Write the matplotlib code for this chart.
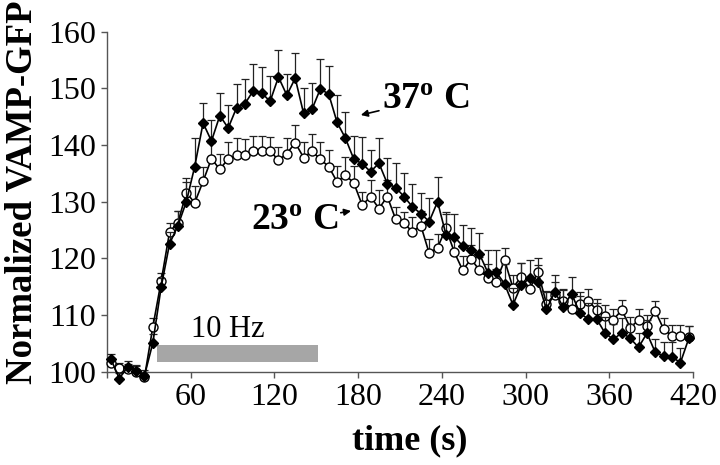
import numpy as np
import matplotlib
matplotlib.use("Agg")
import matplotlib.pyplot as plt

plt.rcParams['font.family'] = ['Liberation Serif', 'DejaVu Serif']
plt.rcParams['mathtext.fontset'] = 'custom'
plt.rcParams['mathtext.rm'] = 'Liberation Serif'
plt.rcParams['mathtext.bf'] = 'Liberation Serif:bold'

# sampling every 6 s
time_s = np.arange(3, 420, 6)

# 37 C (filled diamonds)
vamp_37 = [102.2, 98.8, 100.9, 100.2, 99.3, 105.1, 115.0, 122.6, 125.8, 130.0,
           136.2, 143.9, 140.7, 145.2, 143.0, 146.6, 147.3, 149.6, 149.2, 147.7,
           152.0, 148.8, 151.8, 145.6, 146.3, 149.9, 149.0, 144.0, 141.2, 137.5,
           136.7, 135.3, 136.8, 133.2, 132.5, 130.9, 129.1, 127.9, 126.5, 130.0,
           124.2, 123.8, 122.2, 121.5, 120.8, 117.5, 117.6, 115.5, 111.8, 115.3,
           116.5, 115.9, 111.0, 114.1, 111.4, 113.8, 110.3, 109.3, 109.3, 106.8,
           105.7, 106.9, 105.9, 104.3, 106.8, 103.4, 102.8, 102.6, 101.6, 105.9]
err_37 = [1.0, 1.0, 1.0, 1.0, 1.0, 1.5, 1.5, 2.0, 2.5, 3.5,
          5.0, 3.6, 3.7, 3.9, 4.0, 4.1, 4.4, 4.7, 4.5, 4.5,
          4.7, 3.8, 4.4, 4.5, 4.7, 5.2, 4.9, 4.9, 4.7, 4.1,
          4.7, 3.9, 4.4, 4.6, 4.3, 4.2, 4.0, 3.7, 4.1, 4.3,
          4.0, 4.0, 3.7, 3.8, 3.6, 4.0, 3.9, 3.5, 3.0, 3.8,
          3.3, 3.0, 3.0, 3.0, 3.0, 3.0, 3.0, 2.8, 2.8, 2.8,
          2.8, 2.6, 2.6, 2.6, 2.4, 2.3, 2.5, 2.7, 2.5, 2.2]

# 23 C (open circles)
vamp_23 = [101.5, 100.6, 100.4, 100.0, 99.0, 107.9, 116.0, 124.7, 126.3, 131.6,
           129.8, 133.6, 137.6, 135.7, 137.6, 138.2, 138.2, 139.0, 139.0, 139.0,
           137.3, 138.5, 140.4, 137.8, 138.9, 137.5, 136.2, 133.5, 134.7, 133.3,
           129.4, 130.9, 128.8, 130.9, 126.9, 126.2, 124.7, 125.8, 120.9, 121.9,
           125.3, 121.1, 117.9, 119.9, 117.9, 116.6, 115.9, 119.7, 114.8, 116.8,
           114.6, 117.6, 112.0, 113.6, 112.5, 111.1, 112.0, 112.5, 110.9, 109.8,
           109.2, 110.9, 107.8, 109.1, 108.1, 110.7, 107.5, 106.3, 106.3, 106.1]
err_23 = [1.0, 1.0, 1.0, 1.0, 1.0, 1.5, 1.5, 1.5, 2.0, 2.5,
          3.0, 2.5, 2.8, 2.8, 3.0, 3.0, 2.8, 2.6, 2.6, 2.4,
          2.4, 2.8, 3.1, 2.8, 3.1, 3.1, 2.9, 2.8, 3.2, 3.0,
          2.3, 2.9, 3.2, 3.0, 2.2, 2.0, 2.6, 2.5, 2.6, 2.4,
          2.5, 2.5, 2.5, 2.4, 2.4, 2.4, 2.3, 2.2, 2.3, 2.3,
          2.2, 2.4, 2.2, 2.2, 2.1, 2.1, 2.1, 2.1, 2.0, 2.0,
          1.9, 1.7, 1.9, 1.9, 1.9, 1.8, 1.9, 1.9, 2.0, 2.0]

stim_start, stim_end = 36, 151

fig = plt.figure(figsize=(7.2, 4.65), dpi=100)
ax = fig.add_axes([0.1483, 0.2006, 0.8142, 0.7312])

# stimulus bar
ax.barh(103.2, stim_end - stim_start, left=stim_start, height=3.0,
        color='#a6a6a6', zorder=1)
ax.text(87, 104.9, '10 Hz', fontsize=22, ha='center', va='bottom')

no_err = np.zeros(len(time_s))
ax.errorbar(time_s, vamp_23, yerr=[no_err, err_23], fmt='none', ecolor='#222222',
            elinewidth=0.9, capsize=3, capthick=0.9, zorder=2, clip_on=False)
ax.plot(time_s, vamp_23, '-o', color='black', lw=1.2, ms=6.5,
        mfc='white', mec='black', mew=1.0, zorder=3, clip_on=False)
ax.errorbar(time_s, vamp_37, yerr=[no_err, err_37], fmt='none', ecolor='#222222',
            elinewidth=0.9, capsize=3, capthick=0.9, zorder=4, clip_on=False)
ax.plot(time_s, vamp_37, '-D', color='black', lw=1.2, ms=5.3,
        mfc='black', mec='black', zorder=5, clip_on=False)

ax.annotate(r'$\mathbf{37^{o}}$ C', xy=(182, 145.3), xytext=(197, 148.0),
            fontsize=27, fontweight='bold', va='center', ha='left',
            arrowprops=dict(arrowstyle='-|>', color='black', lw=1.2,
                            mutation_scale=10, shrinkA=0, shrinkB=0))
ax.annotate(r'$\mathbf{23^{o}}$ C', xy=(176, 128.4), xytext=(103, 126.7),
            fontsize=27, fontweight='bold', va='center', ha='left',
            arrowprops=dict(arrowstyle='-|>', color='black', lw=1.2,
                            mutation_scale=10, shrinkA=0, shrinkB=1))

ax.set_xlim(0, 420)
ax.set_ylim(100, 160)
ax.set_xticks(np.arange(0, 421, 60))
ax.set_xticklabels([''] + [str(v) for v in range(60, 421, 60)])
ax.set_yticks(np.arange(100, 161, 10))
ax.tick_params(labelsize=23, length=4, width=1.0, color='#555555', pad=4)
for side in ['top', 'right']:
    ax.spines[side].set_visible(False)
for side in ['left', 'bottom']:
    ax.spines[side].set_color('#555555')
    ax.spines[side].set_linewidth(1.0)

fig.text(410 / 720, 1 - 441 / 465, 'time (s)', fontsize=26,
         fontweight='bold', ha='center', va='center')
fig.text(22 / 720, 1 - 192 / 465, 'Normalized VAMP-GFP', fontsize=26.5,
         fontweight='bold', rotation=90, ha='center', va='center')

fig.savefig('out.png', dpi=100)
